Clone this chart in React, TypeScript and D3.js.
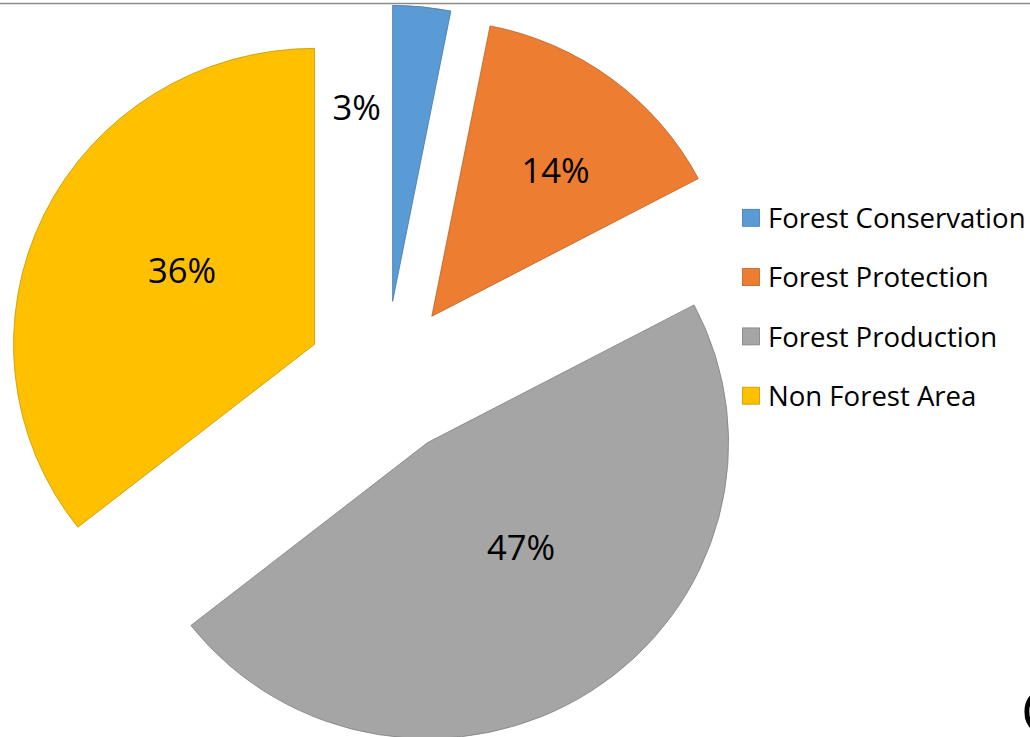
import React from "react";
import * as d3 from "d3";

const categories = ["Forest Conservation", "Forest Protection", "Forest Production", "Non Forest Area"];
const values = [3.1, 14.2, 47.1, 35.6];
const labels = ["3%", "14%", "47%", "36%"];
const colors = ["#5B9BD5", "#ED7D31", "#A5A5A5", "#FFC000"];

// label placement relative to each exploded slice: angle offset (rad) and radius fraction
const labelAngleOffset = [-0.279, 0.061, -0.139, 0.053];
const labelRadiusFactor = [0.662, 0.636, 0.474, 0.503];

const W = 1030;
const H = 737;
const cx = 385;
const cy = 378;
const R = 296;
const explode = 77;
const stretchX = 1.017;

export default function App() {
  const pie = d3.pie<number>().sort(null).value((d) => d).startAngle(0).endAngle(2 * Math.PI);
  const arcs = pie(values);
  const arc = d3.arc<d3.PieArcDatum<number>>().innerRadius(0).outerRadius(R);

  const legendY = d3.scaleLinear().domain([0, 1]).range([217.8, 277.1]);

  return (
    <svg
      width={W}
      height={H}
      style={{ position: "absolute", left: 0, top: 0, background: "#fff" }}
      fontFamily="'Open Sans', sans-serif"
    >
      <line x1={0} x2={W} y1={3.5} y2={3.5} stroke="#8c8c8c" strokeWidth={1.5} />
      <g transform={`translate(${cx},${cy}) scale(${stretchX},1)`}>
        {arcs.map((a, i) => {
          const mid = (a.startAngle + a.endAngle) / 2;
          const ox = explode * Math.sin(mid);
          const oy = -explode * Math.cos(mid);
          const la = mid + labelAngleOffset[i];
          const lr = R * labelRadiusFactor[i];
          const lx = lr * Math.sin(la);
          const ly = -lr * Math.cos(la);
          const stroke = d3.color(colors[i])!.darker(0.7).formatHex();
          return (
            <g key={categories[i]} transform={`translate(${ox},${oy})`}>
              <path d={arc(a) || ""} fill={colors[i]} stroke={stroke} strokeWidth={0.8} strokeLinejoin="miter" />
              <text
                x={lx}
                y={ly}
                dy={-2.5}
                textAnchor="middle"
                dominantBaseline="central"
                fontSize={34}
                fill="#000"
              >
                {labels[i]}
              </text>
            </g>
          );
        })}
      </g>
      <g>
        {categories.map((c, i) => {
          const y = legendY(i);
          const stroke = d3.color(colors[i])!.darker(0.7).formatHex();
          return (
            <g key={c}>
              <rect x={742.5} y={y - 8.5} width={17} height={17} fill={colors[i]} stroke={stroke} strokeWidth={0.8} />
              <g transform={`translate(768,${y}) scale(1.04,1)`}>
                <text x={0} y={0} dominantBaseline="central" fontSize={26.5} fill="#000">
                  {c}
                </text>
              </g>
            </g>
          );
        })}
      </g>
      <text x={1021} y={732} fontSize={56} fill="#000">C</text>
    </svg>
  );
}
